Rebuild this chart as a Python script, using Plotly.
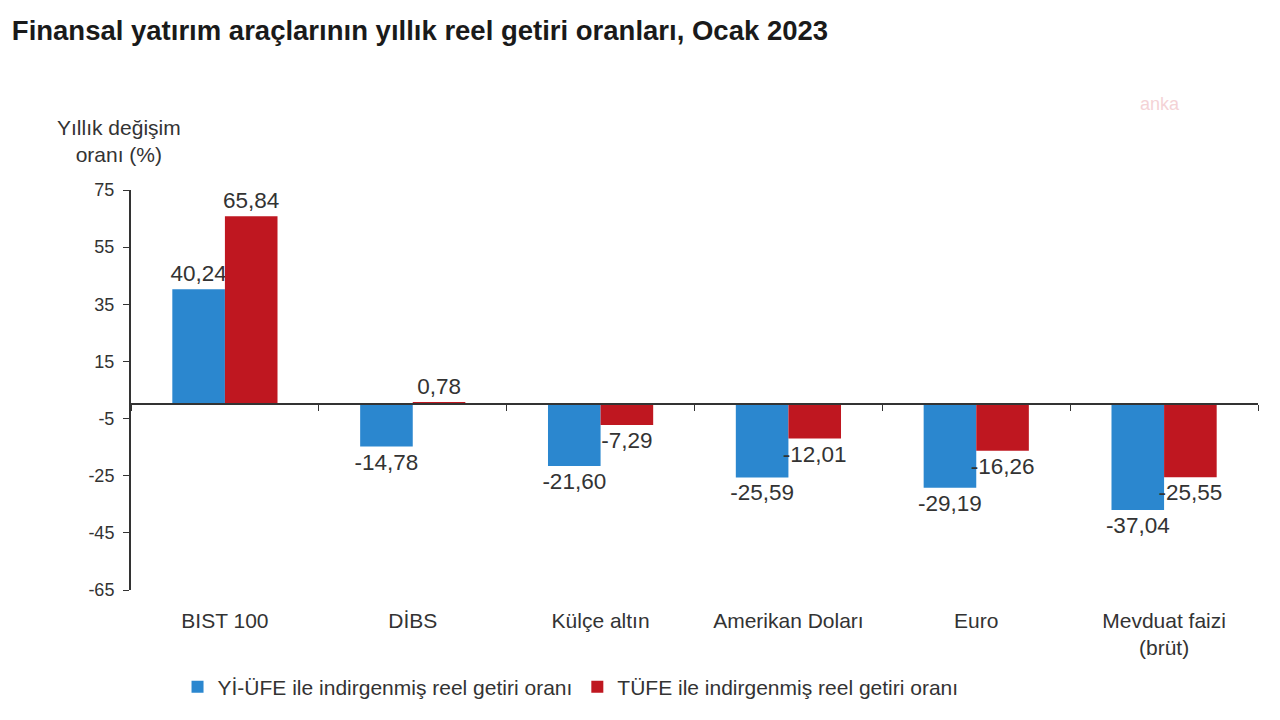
import plotly.graph_objects as go

# Data
categories = ["BIST 100", "DİBS", "Külçe altın", "Amerikan Doları", "Euro", "Mevduat faizi<br>(brüt)"]
yi_ufe = [40.24, -14.78, -21.60, -25.59, -29.19, -37.04]
tufe = [65.84, 0.78, -7.29, -12.01, -16.26, -25.55]
y_ticks = [75, 55, 35, 15, -5, -25, -45, -65]

blue = "#2b87cf"
red = "#bf1720"
font_family = "Liberation Sans, Arial, sans-serif"

fig = go.Figure()

fig.add_trace(go.Bar(
    x=categories, y=yi_ufe, name="Yİ-ÜFE ile indirgenmiş reel getiri oranı",
    marker=dict(color=blue, line=dict(width=0)),
    texttemplate="%{y:.2f}", textposition="outside", cliponaxis=False,
    constraintext="none", textfont=dict(size=22.5, color="#333333"),
))
fig.add_trace(go.Bar(
    x=categories, y=tufe, name="TÜFE ile indirgenmiş reel getiri oranı",
    marker=dict(color=red, line=dict(width=0)),
    texttemplate="%{y:.2f}", textposition="outside", cliponaxis=False,
    constraintext="none", textfont=dict(size=22.5, color="#333333"),
))

# Invisible helper trace so the zero-line axis with boundary ticks is drawn
fig.add_trace(go.Scatter(x=categories, y=[None] * len(categories), xaxis="x2",
                         showlegend=False, hoverinfo="skip"))

fig.update_layout(
    width=1280, height=720,
    paper_bgcolor="white", plot_bgcolor="white",
    font=dict(family=font_family, size=18, color="#333333"),
    separators=",.",
    barmode="group", bargap=0.44, bargroupgap=0,
    uniformtext=dict(minsize=22, mode="show"),
    margin=dict(l=123, r=30, t=182, b=138),
    title=dict(text="<b>Finansal yatırım araçlarının yıllık reel getiri oranları, Ocak 2023</b>",
               x=0.003, xanchor="left", y=0.969, yanchor="middle",
               font=dict(size=27.5, color="#1a1a1a")),
    xaxis=dict(showline=False, ticks="", showgrid=False, zeroline=False,
               ticklabelstandoff=16, tickfont=dict(size=21)),
    xaxis2=dict(overlaying="x", matches="x", anchor="free", position=65 / 140,
                showline=True, linecolor="#333333", linewidth=2,
                ticks="outside", tickson="boundaries", ticklen=6, tickcolor="#333333",
                showticklabels=False, showgrid=False, zeroline=False),
    yaxis=dict(range=[-65, 75], tickvals=y_ticks, ticktext=[str(v) for v in y_ticks],
               showgrid=False, zeroline=False,
               showline=True, linecolor="#333333", linewidth=2,
               ticks="outside", ticklen=6, tickcolor="#333333",
               ticklabelstandoff=5, tickfont=dict(size=18)),
    legend=dict(orientation="h", x=0.39, xanchor="center", y=-0.2425, yanchor="middle",
                font=dict(size=21), itemsizing="constant", traceorder="normal"),
    annotations=[
        dict(text="Yıllık değişim<br>oranı (%)", xref="paper", yref="paper",
             x=-0.0106, y=1.1225, xanchor="center", yanchor="middle", showarrow=False,
             align="center", font=dict(size=21)),
        dict(text="anka", xref="paper", yref="paper", x=0.933, y=1.245,
             showarrow=False, font=dict(size=18, color="#f4d3d6")),
    ],
)

fig.write_html("out.html")
